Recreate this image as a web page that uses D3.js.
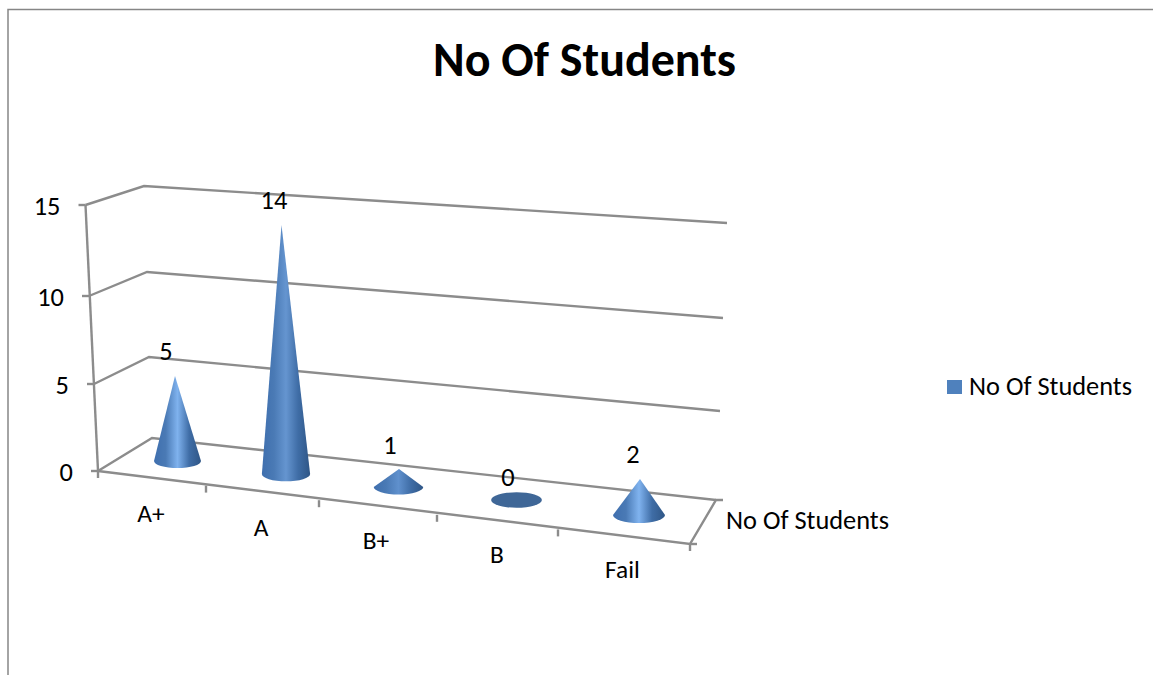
<!DOCTYPE html>
<html><head><meta charset="utf-8">
<script src="https://cdn.jsdelivr.net/npm/d3@7"></script>
<style>html,body{margin:0;padding:0;background:#fff;overflow:hidden}svg{display:block}text{font-family:Carlito,Lato,"Open Sans",sans-serif;fill:#000}</style>
</head><body><svg id="c" width="1153" height="675"></svg>
<script>
const chartTitle = "No Of Students";
const seriesName = "No Of Students";
const categories = ["A+","A","B+","B","Fail"];
const values = [5,14,1,0,2];
const yTicks = [0,5,10,15];

const svg = d3.select("#c");
const grey = "#8c8c8c";
const bodySize = 26.4;

// projection scales (value -> wall corner, category -> floor position)
const frontX = d3.scaleLinear().domain(yTicks).range([98,94,89,85.5]);
const frontY = d3.scaleLinear().domain(yTicks).range([471,384,296,205]);
const backLX = d3.scaleLinear().domain(yTicks).range([152,149,147,144]);
const backLY = d3.scaleLinear().domain(yTicks).range([438,357,272,186]);
const backRX = d3.scaleLinear().domain(yTicks).range([716,720,723,727]);
const backRY = d3.scaleLinear().domain(yTicks).range([500,411,318,223]);

const idx = categories.map((_,i)=>i);
const baseX = d3.scaleLinear().domain(idx).range([177.5,286,398.5,516.5,639]);
const baseY = d3.scaleLinear().domain(idx).range([461,474,487,500,515]);
const baseRX = d3.scaleLinear().domain([0,4]).range([23.5,26]);
const baseRY = d3.scaleLinear().domain([0,4]).range([7,8]);
const coneH = d3.scaleLinear().domain([0,1,2,5,14]).range([0,18,36,85,249]);
const lean = d3.scaleLinear().domain(idx).range([-0.5,-0.32,0.5,0.5,0.5]);
const edgeI = d3.range(6);
const edgeX = d3.scaleLinear().domain(edgeI).range([98,206,319,437,558,690]);
const edgeY = d3.scaleLinear().domain([0,5]).range([471,544]);

// outer frame
svg.append("path").attr("d","M8 675V9.5H1153").attr("fill","none").attr("stroke","#868686").attr("stroke-width",1.5);

// defs
const defs = svg.append("defs");
function grad(id,stops){
  const g = defs.append("linearGradient").attr("id",id).attr("x1",0).attr("x2",1).attr("y1",0).attr("y2",0);
  stops.forEach(s=>g.append("stop").attr("offset",s[0]).attr("stop-color",s[1]));
}
const light = ["#7fb2ee","#6595d0","#5f90cd","#6a9cd9","#80b3ef"];
categories.forEach((c,i)=>{
  grad("cone"+i,[[0,"#3f6fae"],[0.25,"#4a7ab5"],[0.5,light[i]],[0.75,"#3f6da6"],[1,"#2f5686"]]);
});

// walls grid
const grid = svg.append("g").attr("fill","none").attr("stroke",grey).attr("stroke-width",2.4);
yTicks.forEach(v=>{
  grid.append("polyline").attr("points",[
    [frontX(v),frontY(v)],[backLX(v),backLY(v)],[backRX(v),backRY(v)]
  ].join(" "));
  grid.append("line").attr("x1",frontX(v)-7).attr("x2",frontX(v)).attr("y1",frontY(v)).attr("y2",frontY(v));
});
// vertical axis
grid.append("line").attr("x1",frontX(15)).attr("y1",frontY(15)).attr("x2",frontX(0)).attr("y2",frontY(0));
// floor front edge and depth edge
grid.append("polyline").attr("points",[
  [edgeX(0),edgeY(0)],[edgeX(5),edgeY(5)],[backRX(0),backRY(0)],[backRX(0)+7,backRY(0)]
].join(" "));
grid.append("line").attr("x1",edgeX(5)).attr("x2",edgeX(5)+7).attr("y1",edgeY(5)).attr("y2",edgeY(5));
edgeI.forEach(i=>{
  grid.append("line").attr("x1",edgeX(i)).attr("x2",edgeX(i)).attr("y1",edgeY(i)).attr("y2",edgeY(i)+7);
});

// y tick labels
svg.append("g").selectAll("text").data(yTicks).join("text")
  .attr("x",v=>frontX(v)-25).attr("y",v=>frontY(v)+10)
  .attr("text-anchor","end").attr("font-size",bodySize).text(d=>d);

// cones
values.forEach((v,i)=>{
  const cx=baseX(i), cy=baseY(i), rx=baseRX(i), ry=baseRY(i);
  if(v===0){
    svg.append("ellipse").attr("cx",cx).attr("cy",cy).attr("rx",rx).attr("ry",ry).attr("fill","#3f6797");
    return;
  }
  const h=coneH(v), ax=cx+lean(i)*v;
  svg.append("path")
    .attr("d",`M${ax} ${cy-h}L${cx-rx} ${cy}A${rx} ${ry} 0 0 0 ${cx+rx} ${cy}Z`)
    .attr("fill",`url(#cone${i})`);
});

// value labels
const labelX = d3.scaleOrdinal().domain(idx).range([166,274,390,508,633]);
const labelY = d3.scaleOrdinal().domain(idx).range([360,209,454,486,463]);
svg.append("g").selectAll("text").data(values).join("text")
  .attr("x",(v,i)=>labelX(i))
  .attr("y",(v,i)=>labelY(i))
  .attr("text-anchor","middle").attr("font-size",bodySize).text(d=>d);

// category labels
const catX = d3.scaleLinear().domain(idx).range([151,261,376,497,622.5]);
const catY = d3.scaleLinear().domain(idx).range([522,536,549,563,578]);
svg.append("g").selectAll("text").data(categories).join("text")
  .attr("x",(c,i)=>catX(i)).attr("y",(c,i)=>catY(i))
  .attr("text-anchor","middle").attr("font-size",bodySize-1).text(d=>d);

// depth label
svg.append("text").attr("x",726).attr("y",529).attr("font-size",bodySize).text(seriesName);

// title
svg.append("text").attr("x",584.5).attr("y",76).attr("text-anchor","middle")
  .attr("font-size",48).attr("font-weight",700).text(chartTitle);

// legend
svg.append("rect").attr("x",947).attr("y",380).attr("width",15).attr("height",14).attr("fill","#4f81bd");
svg.append("text").attr("x",969).attr("y",395).attr("font-size",bodySize).text(seriesName);
</script></body></html>
